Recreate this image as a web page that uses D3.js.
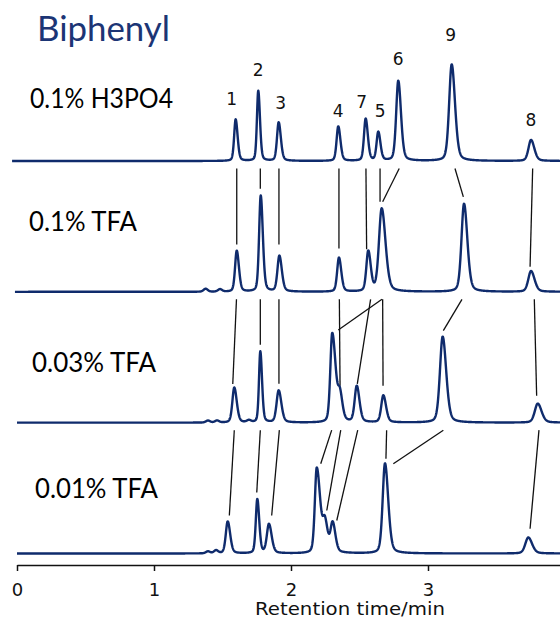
<!DOCTYPE html>
<html><head><meta charset="utf-8">
<script src="https://cdn.jsdelivr.net/npm/d3@7"></script>
<style>body{margin:0;background:#fff}svg{display:block}</style>
</head><body><svg id="c" width="560" height="622"></svg>
<script>
// ---------- DATA ----------
const chartTitle = "Biphenyl";
const traceNames = ["0.1% H3PO4", "0.1% TFA", "0.03% TFA", "0.01% TFA"];
const traceStart = [-0.036, -0.015, 0, 0];           // min, where each recording starts
const timeTicks = [0, 1, 2, 3];
const axisTitle = "Retention time/min";
const peakLabels = ["1", "2", "3", "4", "7", "5", "6", "9", "8"];   // peaks of first trace

// retention times (min)
const peakTimes = [
  [1.596, 1.761, 1.910, 2.345, 2.545, 2.637, 2.783, 3.173, 3.752],
  [1.377, 1.482, 1.604, 1.779, 1.915, 2.350, 2.564, 2.662, 3.263, 3.752],
  [1.394, 1.460, 1.693, 1.586, 1.776, 1.910, 2.301, 2.358, 2.480, 2.674, 3.107, 3.801],
  [1.394, 1.453, 1.538, 1.754, 1.839, 2.188, 2.248, 2.304, 2.686, 3.732]
];
// peak heights (signal units)
const peakHeights = [
  [41.5, 70, 38.5, 34.5, 42, 28.5, 80, 96.5, 21],
  [3, 2.5, 41, 96, 35.7, 34, 40, 83, 88, 20.7],
  [2, 2, 2, 35, 71, 32, 89, 24, 36, 27, 86, 19],
  [2, 3, 32, 54, 29, 85, 28, 29, 90, 16]
];
// peak widths at half height (min)
const peakWidths = [
  [0.026, 0.023, 0.029, 0.029, 0.029, 0.029, 0.036, 0.044, 0.044],
  [0.036, 0.036, 0.029, 0.028, 0.033, 0.031, 0.033, 0.047, 0.044, 0.047],
  [0.036, 0.036, 0.036, 0.033, 0.023, 0.036, 0.033, 0.033, 0.036, 0.036, 0.047, 0.051],
  [0.036, 0.036, 0.033, 0.026, 0.036, 0.033, 0.036, 0.036, 0.040, 0.051]
];
// tailing factor (right half width / left half width)
const peakTails = [
  [1.3, 1.3, 1.3, 1.3, 1.3, 1.3, 1.3, 1.3, 1.3],
  [1, 1, 1.3, 1.3, 1.3, 1.3, 1.3, 1.4, 1.3, 1.3],
  [1, 1, 1, 1.3, 1.3, 1.3, 1.8, 1.3, 1.3, 1.3, 1.3, 1.3],
  [1, 1, 1.3, 1.3, 1.3, 1.8, 1.3, 1.3, 1.4, 1.3]
];
// connectors between consecutive traces: [time on upper trace, time on lower trace, signal level on lower trace]
const links12 = [[1.604,1.604,47.3],[1.776,1.776,103],[1.912,1.912,47.3],[2.350,2.350,43.3],[2.547,2.552,42.7],
                 [2.650,2.650,90],[2.790,2.669,90],[3.197,3.258,95],[3.764,3.745,25]];
const links23 = [[1.602,1.575,38.7],[1.776,1.776,78],[1.912,1.912,39],[2.353,2.358,37],[2.664,2.345,92.7],
                 [2.581,2.484,38.7],[2.669,2.672,37],[3.248,3.112,92],[3.776,3.793,27]];
const links34 = [[1.586,1.550,38],[1.776,1.750,61],[1.915,1.859,38],[2.297,2.217,89.7],[2.363,2.261,43],
                 [2.487,2.334,33],[2.698,2.693,94.7],[3.112,2.747,89.7],[3.810,3.745,24.7]];
const traceLinks = [links12, links23, links34];

// ---------- LAYOUT ----------
const W = 560, H = 622;
const navy = "#0f2b6c";
const svg = d3.select("#c");

const x = d3.scaleLinear().domain([0, 4]).range([17, 565]);
const yTrace = d3.scalePoint().domain(traceNames).range([161, 553.5]);
const ySig = d3.scaleLinear().domain([0, 100]).range([0, 100]);

const eta = 0.3;
function peakShape(d, h, w, tail) {
  const ww = d > 0 ? w * tail : w;
  const q = 4 * d * d / (ww * ww);
  return h * ((1 - eta) * Math.exp(-Math.LN2 * q) + eta / (1 + q));
}
function signal(i, t) {
  let s = 0;
  peakTimes[i].forEach((pt, k) => { s += peakShape(t - pt, peakHeights[i][k], peakWidths[i][k], peakTails[i][k]); });
  return s;
}

// connectors
const gLinks = svg.append("g").attr("stroke", "#111").attr("stroke-width", 1.3).attr("fill", "none");
traceLinks.forEach((links, g) => {
  const yTop = yTrace(traceNames[g]) + 7.5;
  const yBase = yTrace(traceNames[g + 1]);
  gLinks.selectAll(null).data(links).enter().append("line")
    .attr("x1", d => x(d[0])).attr("y1", yTop)
    .attr("x2", d => x(d[1])).attr("y2", d => yBase - ySig(d[2]));
});

// traces
const tEnd = x.invert(W);
traceNames.forEach((name, i) => {
  const pts = d3.range(traceStart[i], tEnd + 0.001, 0.0015).map(t => [t, signal(i, t)]);
  const line = d3.line().x(d => x(d[0])).y(d => yTrace(name) - ySig(d[1]));
  svg.append("path").datum(pts).attr("d", line)
    .attr("fill", "none").attr("stroke", navy).attr("stroke-width", 2.4).attr("stroke-linejoin", "round");
});

// peak labels on first trace
const labelDx = [-4, 0, 2, 0, -4, 2, 0, -1, 0];
const labelLift = [15, 15, 14, 10, 11, 16, 16, 24, 14];
svg.append("g").selectAll("text").data(peakLabels).enter().append("text")
  .attr("x", (d, k) => x(peakTimes[0][k]) + labelDx[k])
  .attr("y", (d, k) => yTrace(traceNames[0]) - ySig(peakHeights[0][k]) - labelLift[k])
  .attr("text-anchor", "middle")
  .style("font-family", "'DejaVu Sans', sans-serif").style("font-size", "17px").style("fill", "#111")
  .text(d => d);

// trace names
const nameX = [30, 29, 32, 35];
const nameY = [108, 231, 372, 498];
const nameLen = [143, 108, 124, 123];
svg.append("g").selectAll("text").data(traceNames).enter().append("text")
  .attr("x", (d, i) => nameX[i]).attr("y", (d, i) => nameY[i])
  .attr("textLength", (d, i) => nameLen[i]).attr("lengthAdjust", "spacingAndGlyphs")
  .style("font-family", "Lato, 'Open Sans', sans-serif").style("font-size", "26px").style("fill", "#000")
  .text(d => d);

// title
svg.append("text").attr("x", 37).attr("y", 41)
  .attr("textLength", 133).attr("lengthAdjust", "spacingAndGlyphs")
  .style("font-family", "Lato, 'Open Sans', sans-serif").style("font-size", "34px").style("fill", "#1c3575")
  .text(chartTitle);

// axis
const axisY = 565;
const axis = d3.axisBottom(x).tickValues(timeTicks).tickFormat(d3.format("d")).tickSize(6).tickSizeOuter(0).tickPadding(12);
const gAxis = svg.append("g").attr("transform", `translate(0,${axisY})`).call(axis);
gAxis.select(".domain").attr("stroke", "#111").attr("stroke-width", 1.5);
gAxis.selectAll(".tick line").attr("stroke", "#111").attr("stroke-width", 1.5);
gAxis.selectAll(".tick text").style("font-family", "'DejaVu Sans', sans-serif").style("font-size", "18px").style("fill", "#111");

svg.append("text").attr("x", 350).attr("y", 615).attr("text-anchor", "middle")
  .attr("textLength", 190).attr("lengthAdjust", "spacingAndGlyphs")
  .style("font-family", "'DejaVu Sans', sans-serif").style("font-size", "18px").style("fill", "#111")
  .text(axisTitle);
</script></body></html>
